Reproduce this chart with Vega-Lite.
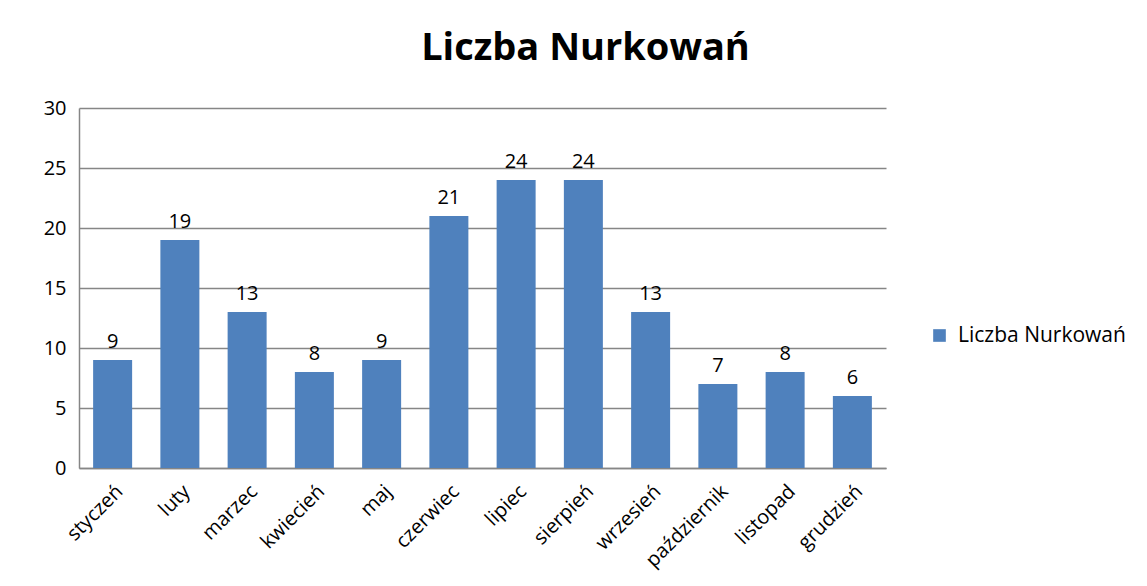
{
  "$schema": "https://vega.github.io/schema/vega-lite/v6.json",
  "width": 807,
  "height": 360,
  "autosize": "none",
  "padding": {"left": 79, "top": 108, "right": 261, "bottom": 118},
  "background": "white",
  "title": {"text": "Liczba Nurkowań", "font": "Open Sans", "fontSize": 38, "fontWeight": "bold", "color": "#000000", "anchor": "middle", "dx": 103, "offset": 30},
  "data": {"values": [
    {"miesiac": "styczeń", "wartosc": 9},
    {"miesiac": "luty", "wartosc": 19},
    {"miesiac": "marzec", "wartosc": 13},
    {"miesiac": "kwiecień", "wartosc": 8},
    {"miesiac": "maj", "wartosc": 9},
    {"miesiac": "czerwiec", "wartosc": 21},
    {"miesiac": "lipiec", "wartosc": 24},
    {"miesiac": "sierpień", "wartosc": 24},
    {"miesiac": "wrzesień", "wartosc": 13},
    {"miesiac": "październik", "wartosc": 7},
    {"miesiac": "listopad", "wartosc": 8},
    {"miesiac": "grudzień", "wartosc": 6}
  ]},
  "encoding": {
    "x": {"field": "miesiac", "type": "nominal", "sort": null, "title": null,
      "scale": {"paddingInner": 0.42, "paddingOuter": 0.21},
      "axis": {"labelAngle": -45, "ticks": false, "domainColor": "#868686", "domainWidth": 1.5, "labelFont": "Open Sans", "labelFontSize": 20, "labelColor": "#000000", "labelPadding": 13}},
    "y": {"field": "wartosc", "type": "quantitative", "title": null,
      "scale": {"domain": [0, 30]},
      "axis": {"values": [0, 5, 10, 15, 20, 25, 30], "ticks": false, "domainColor": "#868686", "domainWidth": 1.5, "gridColor": "#868686", "gridWidth": 1.5, "labelFont": "Open Sans", "labelFontSize": 20, "labelColor": "#000000", "labelPadding": 13}}
  },
  "layer": [
    {"mark": {"type": "bar", "color": "#4F81BD"},
     "encoding": {"color": {"datum": "Liczba Nurkowań", "type": "nominal",
       "scale": {"range": ["#4F81BD"]},
       "legend": {"title": null, "orient": "none", "legendX": 850, "legendY": 217, "symbolType": "square", "symbolSize": 160, "symbolStrokeWidth": 0, "labelFont": "Open Sans", "labelFontSize": 21, "labelColor": "#000000", "labelLimit": 300, "labelOffset": 8}}}},
    {"mark": {"type": "text", "baseline": "bottom", "dy": -8, "font": "Open Sans", "fontSize": 20, "color": "#000000"},
     "encoding": {"text": {"field": "wartosc", "type": "quantitative"}}}
  ],
  "config": {"view": {"stroke": null}}
}
